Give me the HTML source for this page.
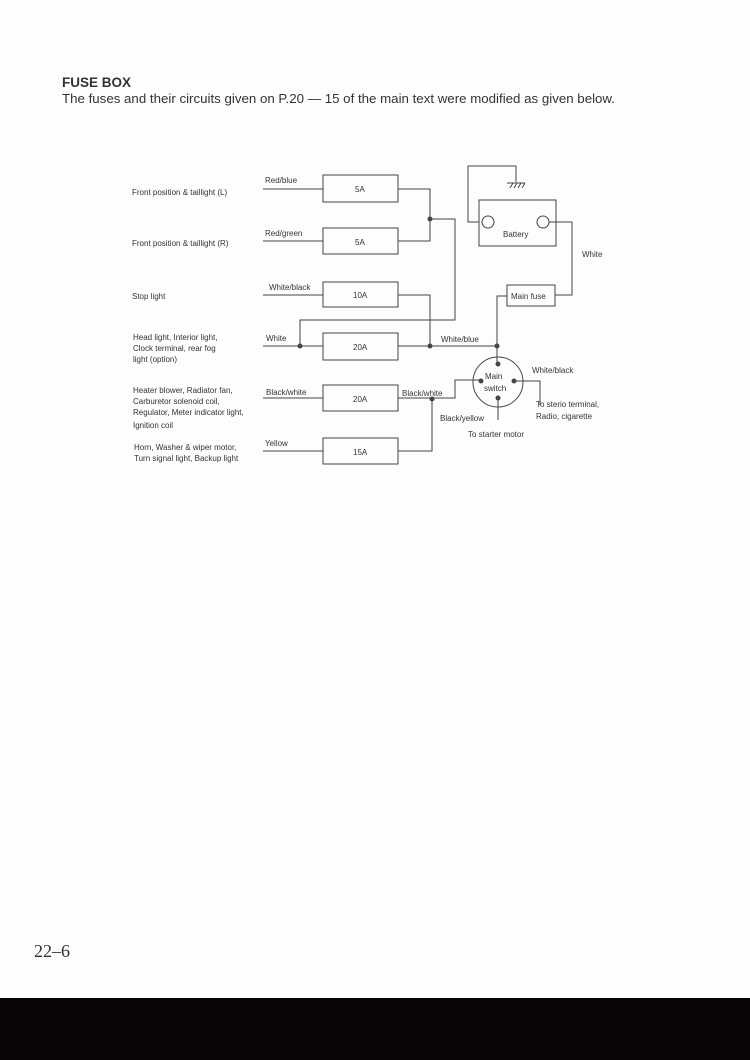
<!DOCTYPE html>
<html><head><meta charset="utf-8"><style>
html,body{margin:0;padding:0;background:#fff}
svg{display:block}
text{font-family:"Liberation Sans",sans-serif;fill:#333}
</style></head><body>
<svg width="750" height="1060" viewBox="0 0 750 1060" xmlns="http://www.w3.org/2000/svg">
<rect width="750" height="1060" fill="#fdfdfc"/>
<text x="62" y="87" font-size="13.5" font-weight="bold" fill="#3a3a3a">FUSE BOX</text>
<text x="62" y="103" font-size="13" textLength="553" lengthAdjust="spacingAndGlyphs">The fuses and their circuits given on P.20 — 15 of the main text were modified as given below.</text>

<g stroke="#444" stroke-width="1" fill="none">
<!-- fuse boxes -->
<rect x="323" y="175" width="75" height="27"/>
<rect x="323" y="228" width="75" height="26"/>
<rect x="323" y="282" width="75" height="25"/>
<rect x="323" y="333" width="75" height="27"/>
<rect x="323" y="385" width="75" height="26"/>
<rect x="323" y="438" width="75" height="26"/>
<!-- inputs -->
<path d="M263 189H323M263 241H323M263 295H323M263 346H323M263 398H323M263 451H323"/>
<!-- right side -->
<path d="M398 189H430V241H398M430 219H455V320H300V346"/>
<path d="M398 295H430V346M398 346H497"/>
<path d="M398 398H455V380H481M432 398V451H398"/>
<!-- main fuse & battery -->
<rect x="507" y="285" width="48" height="21"/>
<path d="M507 296H497V364"/>
<rect x="479" y="200" width="77" height="46"/>
<circle cx="488" cy="222" r="6"/>
<circle cx="543" cy="222" r="6"/>
<path d="M479 222H468V166H516V182M507 183H525"/>
<path d="M510 188l3-5M514 188l3-5M518 188l3-5M522 188l3-5"/>
<path d="M549 222H572V295H555"/>
<!-- main switch -->
<circle cx="498" cy="382" r="25"/>
<path d="M514 381H540V405M498 398V420"/>
</g>
<g fill="#444">
<circle cx="430" cy="219" r="2.5"/><circle cx="300" cy="346" r="2.5"/>
<circle cx="430" cy="346" r="2.5"/><circle cx="497" cy="346" r="2.5"/>
<circle cx="432" cy="399" r="2.5"/>
<circle cx="498" cy="364" r="2.5"/><circle cx="481" cy="381" r="2.5"/>
<circle cx="514" cy="381" r="2.5"/><circle cx="498" cy="398" r="2.5"/>
</g>

<g font-size="8">
<text x="355" y="192">5A</text><text x="355" y="245">5A</text>
<text x="353" y="298">10A</text><text x="353" y="350">20A</text>
<text x="353" y="402">20A</text><text x="353" y="455">15A</text>
<text x="265" y="183">Red/blue</text>
<text x="265" y="236">Red/green</text>
<text x="269" y="290">White/black</text>
<text x="266" y="341">White</text>
<text x="266" y="395">Black/white</text>
<text x="265" y="446">Yellow</text>
<text x="132" y="195">Front position &amp; taillight (L)</text>
<text x="132" y="246">Front position &amp; taillight (R)</text>
<text x="132" y="299">Stop light</text>
<text x="133" y="340">Head light, Interior light,</text>
<text x="133" y="351">Clock terminal, rear fog</text>
<text x="133" y="362">light (option)</text>
<text x="133" y="393">Heater blower, Radiator fan,</text>
<text x="133" y="404">Carburetor solenoid coil,</text>
<text x="133" y="415">Regulator, Meter indicator light,</text>
<text x="133" y="428">Ignition coil</text>
<text x="134" y="450">Horn, Washer &amp; wiper motor,</text>
<text x="134" y="461">Turn signal light, Backup light</text>
<text x="441" y="342">White/blue</text>
<text x="402" y="396">Black/white</text>
<text x="440" y="421">Black/yellow</text>
<text x="468" y="437">To starter motor</text>
<text x="532" y="373">White/black</text>
<text x="536" y="407">To sterio terminal,</text>
<text x="536" y="419">Radio, cigarette</text>
<text x="582" y="257">White</text>
<text x="511" y="299">Main fuse</text>
<text x="503" y="237">Battery</text>
<text x="485" y="379">Main</text>
<text x="484" y="391">switch</text>
</g>
<text x="34" y="957" font-size="18" font-family="Liberation Serif, serif" style="font-family:'Liberation Serif',serif" fill="#444">22–6</text>
<rect x="0" y="998" width="750" height="62" fill="#0a0606"/>
</svg>
</body></html>
